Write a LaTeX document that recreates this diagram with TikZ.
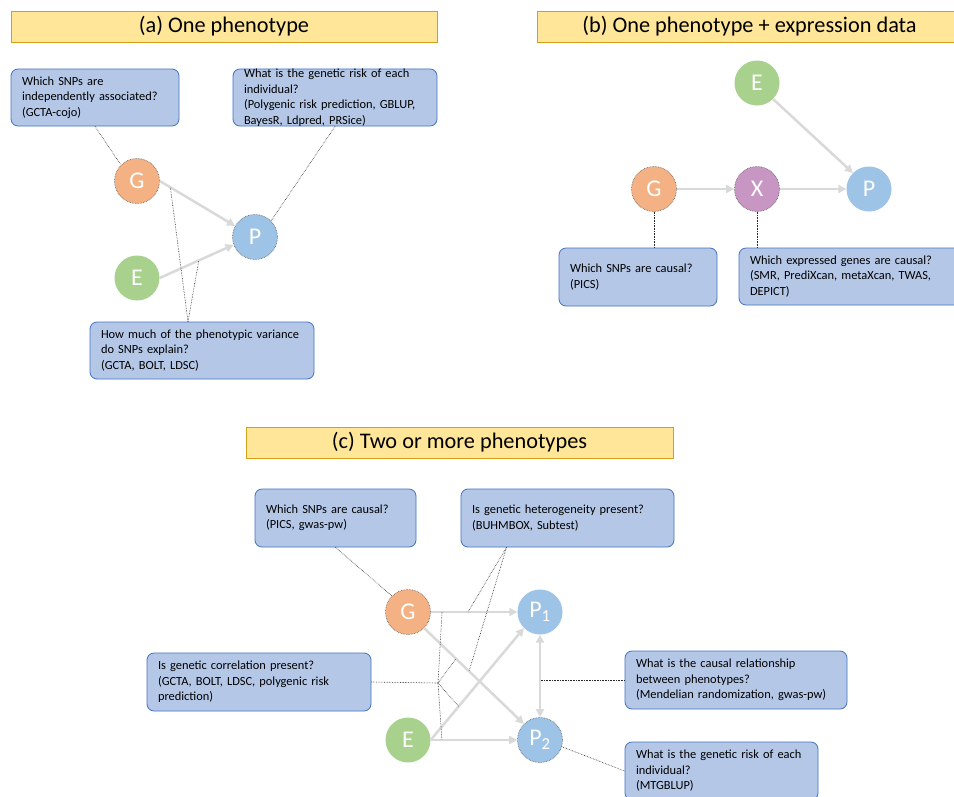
\documentclass[tikz,border=0pt]{standalone}
\usepackage{fontspec}
\setmainfont{Carlito}
\usetikzlibrary{arrows.meta}
\definecolor{gcol}{HTML}{F4B183}
\definecolor{ecol}{HTML}{A9D18E}
\definecolor{pcol}{HTML}{9DC3E6}
\definecolor{xcol}{HTML}{C796C3}
\definecolor{boxfill}{HTML}{B4C7E7}
\definecolor{boxline}{HTML}{4472C4}
\definecolor{headfill}{HTML}{FFE699}
\definecolor{headline}{HTML}{D4A017}
\definecolor{arrowgray}{HTML}{D9D9D9}
\tikzset{
  var/.style={circle,minimum size=45pt,inner sep=0pt,text=white,font=\fontsize{24}{24}\selectfont},
  ring/.style={draw=black!65,densely dotted,line width=0.6pt},
  flow/.style={draw=arrowgray,line width=2.5pt,->,>={Triangle[length=8pt,width=8pt]}},
  note/.style={draw=black!85,line width=0.6pt,densely dotted},
  qbox/.style={draw=boxline,fill=boxfill,line width=0.8pt,rounded corners=7pt,align=left,inner xsep=11pt,inner ysep=0pt,font=\fontsize{12.4}{15.5}\selectfont},
  heading/.style={draw=headline,fill=headfill,line width=0.9pt,minimum width=426pt,minimum height=31pt,font=\fontsize{22.3}{24}\selectfont}
}
\begin{document}
\begin{tikzpicture}[x=1pt,y=-1pt]
  \clip (0,0) rectangle (954,796);
  \fill[white] (0,0) rectangle (954,796);

  \node[heading] (ta) at (224,26.5) {(a) One phenotype};
  \node[qbox,text width=146pt,minimum height=57pt] (a1) at (95,97.5) {Which SNPs are\\independently associated?\\(GCTA-cojo)};
  \node[qbox,text width=182pt,minimum height=57pt] (a2) at (335,97.5) {What is the genetic risk of each\\individual?\\(Polygenic risk prediction, GBLUP,\\BayesR, Ldpred, PRSice)};
  \node[qbox,text width=202pt,minimum height=57pt] (a3) at (202,350.5) {How much of the phenotypic variance\\do SNPs explain?\\(GCTA, BOLT, LDSC)};
  \node[var,ring,fill=gcol] (ga) at (137,181) {G};
  \node[var,ring,fill=pcol] (pa) at (255,237) {P};
  \node[var,fill=ecol] (ea) at (137,278) {E};
  \draw[flow] (ga.east) -- coordinate[pos=0.14] (gpa) (pa.151);
  \draw[flow] (ea.east) -- coordinate[pos=0.53] (epa) (pa.200);
  \draw[note] (a1.south) -- (ga.north west);
  \draw[note] (a2.south) -- (pa.north east);
  \draw[note] ([xshift=-14pt]a3.north) -- (gpa);
  \draw[note] ([xshift=-14pt]a3.north) -- (epa);

  \node[heading,minimum width=425pt] (tb) at (749.5,26.5) {(b) One phenotype + expression data};
  \node[var,fill=ecol] (eb) at (757,83) {E};
  \node[var,ring,fill=gcol] (gb) at (654,189) {G};
  \node[var,ring,fill=xcol] (xb) at (757,189) {X};
  \node[var,fill=pcol] (pb) at (869,189) {P};
  \node[qbox,text width=136pt,minimum height=58pt] (b1) at (638,277) {Which SNPs are causal?\\(PICS)};
  \node[qbox,text width=208pt,minimum height=57pt] (b2) at (854,276.5) {Which expressed genes are causal?\\(SMR, PrediXcan, metaXcan, TWAS,\\DEPICT)};
  \draw[flow] (gb) -- (xb);
  \draw[flow] (xb) -- (pb);
  \draw[flow] (eb.south east) -- (pb.north west);
  \draw[note] (gb.south) -- (gb.south |- b1.north);
  \draw[note] (xb.south) -- (xb.south |- b2.north);

  \node[heading,minimum width=427pt] (tc) at (459.5,442.5) {(c) Two or more phenotypes};
  \node[qbox,text width=139pt,minimum height=58pt] (c1) at (335.5,518) {Which SNPs are causal?\\(PICS, gwas-pw)};
  \node[qbox,text width=191pt,minimum height=58pt] (c2) at (567.5,518) {Is genetic heterogeneity present?\\(BUHMBOX, Subtest)};
  \node[qbox,text width=202pt,minimum height=58pt] (c3) at (259,682) {Is genetic correlation present?\\(GCTA, BOLT, LDSC, polygenic risk\\prediction)};
  \node[qbox,text width=200pt,minimum height=58pt] (c4) at (736,680) {What is the causal relationship\\between phenotypes?\\(Mendelian randomization, gwas-pw)};
  \node[qbox,text width=171pt,minimum height=58pt] (c5) at (721.5,771) {What is the genetic risk of each\\individual?\\(MTGBLUP)};
  \node[var,ring,fill=gcol] (gc) at (408,612) {G};
  \node[var,fill=ecol] (ec) at (408,740) {E};
  \node[var,fill=pcol] (p1) at (540,612) {P\textsubscript{1}};
  \node[var,ring,fill=pcol] (p2) at (540,740) {P\textsubscript{2}};
  \draw[flow] (gc) -- coordinate[pos=0.13] (g1a) coordinate[pos=0.43] (g1b) (p1);
  \draw[flow] (gc.south east) -- coordinate[pos=0.32] (g2a) coordinate[pos=0.45] (g2b) (p2.north west);
  \draw[flow] (ec.east) -- coordinate[pos=0.3] (e1a) (p1.south west);
  \draw[flow] (ec) -- coordinate[pos=0.13] (e2a) (p2);
  \draw[flow,<->] (p1) -- (p2);
  \coordinate (br) at (438,683);
  \coordinate (c2foot) at ([xshift=-61pt]c2.south);
  \draw[note] (c1.south) -- (gc.north west);
  \draw[note] (c2foot) -- (g1b);
  \draw[note] (c2foot) -- (g2b);
  \draw[note] (c3.east) -- (br);
  \draw[note] (br) -- (g1a);
  \draw[note] (br) -- (e2a);
  \draw[note] (br) -- (g2a);
  \draw[note] (br) -- (e1a);
  \draw[note] (c4.west) -- (c4.west -| p1);
  \draw[note] (p2.-17) -- (c5.west);
\end{tikzpicture}
\end{document}
